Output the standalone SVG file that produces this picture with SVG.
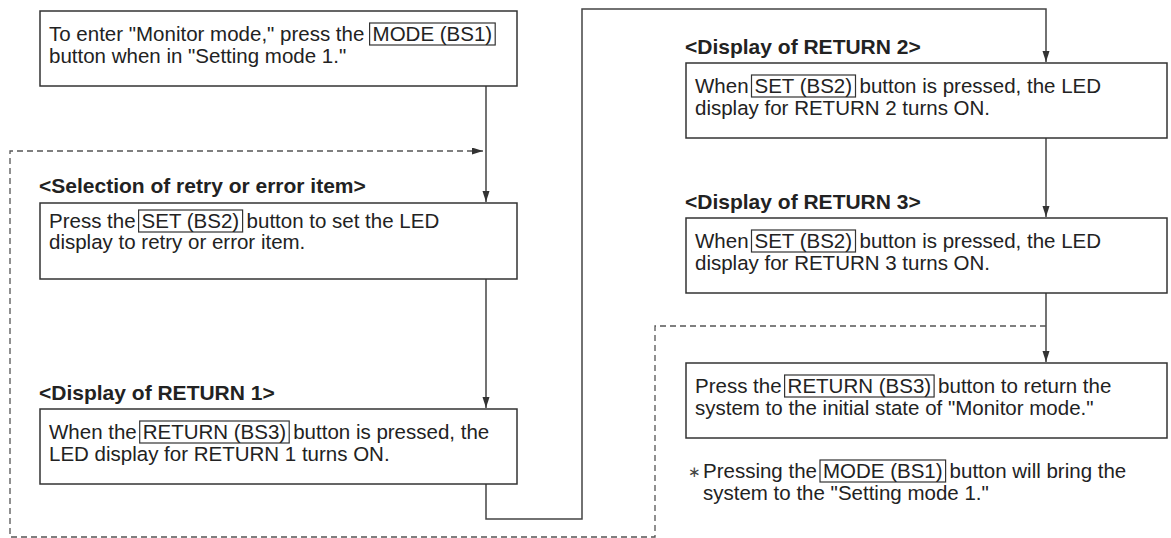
<svg xmlns="http://www.w3.org/2000/svg" width="1171" height="538" viewBox="0 0 1171 538">
<defs>
<style>
.box{fill:#fff;stroke:#333;stroke-width:1.5}
.btn{fill:none;stroke:#333;stroke-width:1.2}
.t{font-family:"Liberation Sans",Arial,sans-serif;font-size:20.5px;fill:#222}
.h{font-family:"Liberation Sans",Arial,sans-serif;font-size:21px;font-weight:bold;fill:#222}
.ast{font-family:"DejaVu Sans",sans-serif;font-size:15px;fill:#444}
.ln{fill:none;stroke:#444;stroke-width:1.5}
.dash{fill:none;stroke:#555;stroke-width:1.3;stroke-dasharray:6 4}
</style>
<marker id="arr" markerUnits="userSpaceOnUse" markerWidth="12" markerHeight="8" refX="11" refY="3.5" orient="auto">
<path d="M0,0 L11,3.5 L0,7 z" fill="#333"/>
</marker>
</defs>
<rect width="1171" height="538" fill="#fff"/>
<g id="connectors">
<path class="ln" d="M486,86 V202" marker-end="url(#arr)"/>
<path class="ln" d="M486,279 V408" marker-end="url(#arr)"/>
<path class="ln" d="M486,484 V519 H582 V9 H1046 V62" marker-end="url(#arr)"/>
<path class="ln" d="M1046,138 V217" marker-end="url(#arr)"/>
<path class="ln" d="M1046,293 V362" marker-end="url(#arr)"/>
<path class="dash" d="M1046,326 H655 V537 H10 V151 H483" marker-end="url(#arr)"/>
</g>
<g id="n1">
<rect class="box" x="40" y="11" width="477" height="75"/>
<text class="t" x="49" y="41">To enter "Monitor mode," press the</text>
<rect class="btn" x="369.6" y="23" width="125.6" height="22"/>
<text class="t" x="372.6" y="41">MODE (BS1)</text>
<text class="t" x="49" y="63">button when in "Setting mode 1."</text>
</g>
<g id="n2">
<text class="h" x="39" y="193">&lt;Selection of retry or error item&gt;</text>
<rect class="box" x="40" y="203" width="477" height="76"/>
<text class="t" x="49" y="228">Press the</text>
<rect class="btn" x="138.6" y="210" width="104" height="22"/>
<text class="t" x="141.6" y="228">SET (BS2)</text>
<text class="t" x="246.6" y="228">button to set the LED</text>
<text class="t" x="49" y="249">display to retry or error item.</text>
</g>
<g id="n3">
<text class="h" x="39" y="400">&lt;Display of RETURN 1&gt;</text>
<rect class="box" x="40" y="409" width="477" height="75"/>
<text class="t" x="49" y="439">When the</text>
<rect class="btn" x="139.7" y="421" width="149.5" height="22"/>
<text class="t" x="142.7" y="439">RETURN (BS3)</text>
<text class="t" x="293.2" y="439">button is pressed, the</text>
<text class="t" x="49" y="461">LED display for RETURN 1 turns ON.</text>
</g>
<g id="n4">
<text class="h" x="685" y="54">&lt;Display of RETURN 2&gt;</text>
<rect class="box" x="686" y="63" width="481" height="75"/>
<text class="t" x="695" y="93">When</text>
<rect class="btn" x="751.5" y="75" width="104" height="22"/>
<text class="t" x="754.5" y="93">SET (BS2)</text>
<text class="t" x="859.5" y="93">button is pressed, the LED</text>
<text class="t" x="695" y="115">display for RETURN 2 turns ON.</text>
</g>
<g id="n5">
<text class="h" x="685" y="209">&lt;Display of RETURN 3&gt;</text>
<rect class="box" x="686" y="218" width="481" height="75"/>
<text class="t" x="695" y="248">When</text>
<rect class="btn" x="751.5" y="230" width="104" height="22"/>
<text class="t" x="754.5" y="248">SET (BS2)</text>
<text class="t" x="859.5" y="248">button is pressed, the LED</text>
<text class="t" x="695" y="270">display for RETURN 3 turns ON.</text>
</g>
<g id="n6">
<rect class="box" x="686" y="363" width="481" height="75"/>
<text class="t" x="695" y="393">Press the</text>
<rect class="btn" x="784.6" y="375" width="149.5" height="22"/>
<text class="t" x="787.6" y="393">RETURN (BS3)</text>
<text class="t" x="938.1" y="393">button to return the</text>
<text class="t" x="695" y="415">system to the initial state of "Monitor mode."</text>
</g>
<g id="note">
<text class="ast" x="688" y="477">∗</text>
<text class="t" x="703" y="478">Pressing the</text>
<rect class="btn" x="820" y="460" width="125.6" height="22"/>
<text class="t" x="823" y="478">MODE (BS1)</text>
<text class="t" x="949.6" y="478">button will bring the</text>
<text class="t" x="703" y="500">system to the "Setting mode 1."</text>
</g>
</svg>
